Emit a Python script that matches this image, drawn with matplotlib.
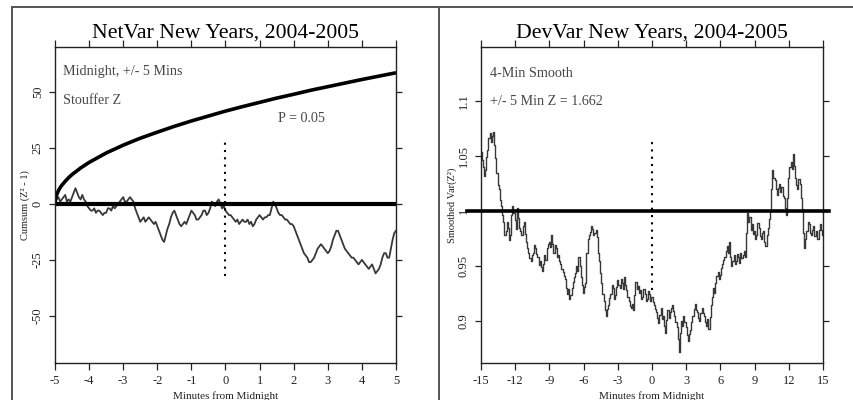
import matplotlib
matplotlib.use("Agg")
import matplotlib.pyplot as plt
import matplotlib.transforms as mtransforms
from matplotlib.lines import Line2D
import numpy as np

# NetVar cumulative deviation, one value every 3 s over midnight +/- 5 min
net_cumsum = [
    0, 2, 3, 1, 2, 3, 4, 1, 2, 1, 3, 5, 7, 5, 3, 2, 4, 2, 1, -1,
    -2, -3, -3, -2, -4, -3, -3, -4, -5, -4, -4, -2, -2, -3, -1, -2, -1, 0, 1, 2,
    3, 1, 1, 2, 3, 2, 1, -2, -4, -6, -8, -7, -6, -8, -7, -6, -7, -8, -9, -8,
    -10, -12, -14, -16, -17, -14, -11, -9, -6, -4, -3, -5, -7, -9, -10, -9, -8, -9, -7, -5,
    -3, -4, -5, -7, -7, -6, -5, -3, -3, -5, -4, -2, 1, 0, -1, 1, 2, 0, -2, -1,
    -3, -4, -5, -5, -6, -7, -8, -7, -9, -8, -7, -8, -8, -7, -9, -8, -10, -9, -7, -6,
    -5, -6, -7, -6, -6, -5, -5, -2, 1, 0, -2, -4, -5, -5, -6, -7, -7, -8, -9, -9,
    -10, -12, -14, -16, -18, -20, -22, -23, -24, -26, -26, -25, -24, -22, -20, -19, -18, -19, -20, -21,
    -22, -21, -19, -16, -14, -12, -12, -14, -16, -18, -20, -21, -22, -23, -24, -24, -25, -26, -27, -26,
    -25, -26, -27, -28, -29, -28, -27, -29, -31, -30, -29, -27, -24, -22, -22, -24, -24, -20, -16, -13,
    -12,
]
net_minutes = np.linspace(-5, 5, len(net_cumsum))

# P = 0.05 envelope
p05_minutes = [-5, -4.99, -4.97, -4.95, -4.9, -4.85, -4.8, -4.7, -4.6, -4.5, -4.25,
               -4, -3.5, -3, -2.5, -2, -1.5, -1, -0.5, 0, 0.5, 1, 1.5, 2, 2.5,
               3, 3.5, 4, 4.5, 5]
p05_values = [0, 1.9, 3.2, 4.1, 5.9, 7.2, 8.3, 10.1, 11.7, 13.1, 16.0,
              18.5, 22.7, 26.2, 29.3, 32.0, 34.6, 37.0, 39.2, 41.4, 43.4, 45.3, 47.2, 48.9, 50.7,
              52.3, 53.9, 55.5, 57.0, 58.5]

# DevVar smoothed variance, one value every 6 s over midnight +/- 15 min
dev_var = [
    1.054, 1.046, 1.040, 1.032, 1.037, 1.049, 1.055, 1.066, 1.071, 1.063,
    1.068, 1.072, 1.060, 1.048, 1.035, 1.024, 1.020, 1.010, 1.005, 0.996,
    0.990, 0.978, 0.982, 0.990, 0.985, 0.974, 0.978, 0.996, 1.005, 0.998,
    0.992, 0.984, 1.003, 0.994, 0.985, 0.982, 0.978, 0.986, 0.990, 0.979,
    0.972, 0.966, 0.962, 0.957, 0.955, 0.960, 0.962, 0.969, 0.966, 0.961,
    0.958, 0.951, 0.955, 0.949, 0.946, 0.952, 0.960, 0.956, 0.966, 0.970,
    0.972, 0.967, 0.978, 0.970, 0.962, 0.969, 0.966, 0.958, 0.960, 0.955,
    0.952, 0.947, 0.945, 0.941, 0.938, 0.930, 0.925, 0.929, 0.920, 0.924,
    0.930, 0.936, 0.940, 0.944, 0.950, 0.946, 0.958, 0.950, 0.940, 0.933,
    0.926, 0.931, 0.935, 0.962, 0.975, 0.978, 0.981, 0.986, 0.984, 0.978,
    0.980, 0.983, 0.976, 0.962, 0.955, 0.944, 0.935, 0.925, 0.918, 0.910,
    0.905, 0.911, 0.915, 0.921, 0.925, 0.933, 0.930, 0.920, 0.924, 0.931,
    0.937, 0.933, 0.930, 0.938, 0.935, 0.929, 0.940, 0.933, 0.928, 0.922,
    0.918, 0.914, 0.912, 0.916, 0.910, 0.924, 0.936, 0.929, 0.932, 0.926,
    0.928, 0.920, 0.922, 0.929, 0.925, 0.918, 0.920, 0.927, 0.925, 0.918,
    0.922, 0.917, 0.915, 0.911, 0.908, 0.903, 0.898, 0.906, 0.912, 0.902,
    0.905, 0.896, 0.889, 0.901, 0.910, 0.903, 0.908, 0.912, 0.915, 0.909,
    0.905, 0.899, 0.895, 0.884, 0.872, 0.889, 0.900, 0.896, 0.905, 0.899,
    0.895, 0.887, 0.882, 0.888, 0.892, 0.899, 0.905, 0.911, 0.916, 0.910,
    0.908, 0.903, 0.900, 0.907, 0.912, 0.907, 0.905, 0.899, 0.896, 0.902,
    0.893, 0.904, 0.915, 0.922, 0.930, 0.926, 0.935, 0.941, 0.945, 0.938,
    0.942, 0.948, 0.952, 0.956, 0.958, 0.964, 0.968, 0.962, 0.972, 0.958,
    0.950, 0.955, 0.960, 0.952, 0.955, 0.961, 0.958, 0.953, 0.962, 0.957,
    0.960, 0.964, 0.958, 0.980, 0.998, 0.990, 0.995, 0.983, 0.988, 0.979,
    0.982, 0.975, 0.978, 0.989, 0.985, 0.977, 0.975, 0.980, 0.982, 0.972,
    0.968, 0.978, 0.985, 0.993, 1.000, 1.020, 1.037, 1.030, 1.028, 1.020,
    1.015, 1.021, 1.025, 1.017, 1.022, 1.014, 1.012, 1.003, 0.996, 1.012,
    1.030, 1.040, 1.045, 1.038, 1.052, 1.041, 1.030, 1.024, 1.020, 1.029,
    1.025, 1.012, 1.002, 0.980, 0.966, 0.975, 0.982, 0.990, 0.988, 0.980,
    0.978, 0.983, 0.986, 0.977, 0.982, 0.975, 0.975, 0.983, 0.988, 0.983,
    0.978,
]
dev_minutes = np.linspace(-15, 15, len(dev_var))

net_xticks = [-5, -4, -3, -2, -1, 0, 1, 2, 3, 4, 5]
net_yticks = [50, 25, 0, -25, -50]
dev_xticks = [-15, -12, -9, -6, -3, 0, 3, 6, 9, 12, 15]
dev_yticks = [1.1, 1.05, 1.0, 0.95, 0.9]
dev_ytick_labels = ["1.1", "1.05", "1", "0.95", "0.9"]

plt.rcParams['font.family'] = ['Liberation Serif', 'DejaVu Serif']
plt.rcParams['axes.unicode_minus'] = False

W, H = 854, 400
fig = plt.figure(figsize=(W / 100, H / 100), dpi=100)
fig.patch.set_facecolor('white')

ink = '#222222'
curve = '#383838'
note = '#484848'
title_size = 15.7
note_size = 10.2

# panel frames
frame = dict(color='#555555', lw=1.4, transform=fig.transFigure)
fig.add_artist(Line2D([12 / W, 1], [1 - 7 / H] * 2, **frame))
fig.add_artist(Line2D([12 / W] * 2, [0, 1 - 7 / H], **frame))
fig.add_artist(Line2D([439 / W] * 2, [0, 1 - 7 / H], **frame))

ax1 = fig.add_axes([55 / W, 37 / H, 341 / W, 316 / H])
ax2 = fig.add_axes([481 / W, 37 / H, 342 / W, 316 / H])


def style(ax, xticks, yticks):
    ax.set_xticks(xticks)
    ax.set_yticks(yticks)
    ax.tick_params(direction='out', length=4, width=0.9, color=ink,
                   top=True, right=True, labelsize=9, labelcolor=ink, pad=4)
    ax.tick_params(axis='x', length=5)
    for lab in ax.get_yticklabels():
        lab.set_rotation(90)
        lab.set_va('center')
    for s in ax.spines.values():
        s.set_color(ink)
        s.set_linewidth(1.0)


# NetVar panel
ax1.set_xlim(-5, 5)
ax1.set_ylim(-71, 70)
ax1.plot(net_minutes, net_cumsum, color=curve, lw=1.3)
ax1.plot(p05_minutes, p05_values, color='black', lw=2.6, solid_capstyle='butt')
ax1.axhline(0, color='black', lw=3)
ax1.plot([0, 0], [-32, 29], color='black', lw=1.5, ls=(0, (1, 2.5)))
style(ax1, net_xticks, net_yticks)
ax1.set_xticklabels([str(t) for t in net_xticks])
ax1.text(0.5, 1 + 9 / 316, 'NetVar New Years, 2004-2005', transform=ax1.transAxes,
         ha='center', va='baseline', fontsize=title_size, color='black')
ax1.text(8 / 341, 1 - 28 / 316, 'Midnight, +/- 5 Mins', transform=ax1.transAxes,
         ha='left', va='baseline', fontsize=note_size, color=note)
ax1.text(8 / 341, 1 - 57 / 316, 'Stouffer Z', transform=ax1.transAxes,
         ha='left', va='baseline', fontsize=note_size, color=note)
ax1.text(223 / 341, 1 - 75 / 316, 'P = 0.05', transform=ax1.transAxes,
         ha='left', va='baseline', fontsize=note_size, color=note)
ax1.text(-30 / 341, 0.5, 'Cumsum (Z² - 1)', transform=ax1.transAxes,
         ha='center', va='center', rotation=90, fontsize=7.5, color=ink)
ax1.text(0.5, -33 / 316, 'Minutes from Midnight', transform=ax1.transAxes,
         ha='center', va='center', fontsize=8, color=ink)

# DevVar panel
ax2.set_xlim(-15, 15)
ax2.set_ylim(0.862, 1.149)
ax2.plot(dev_minutes, dev_var, color=curve, lw=1.0, drawstyle='steps-mid')
# reference line at 1 runs a little past both spines
ref_tr = mtransforms.blended_transform_factory(ax2.transAxes, ax2.transData)
ax2.plot([-0.04, 1.018], [1.0, 1.0], color='black', lw=2.6, clip_on=False,
         transform=ref_tr, zorder=5)
ax2.plot([0, 0], [0.928, 1.065], color='black', lw=1.5, ls=(0, (1, 2.5)))
style(ax2, dev_xticks, dev_yticks)
ax2.set_xticklabels([str(t) for t in dev_xticks])
ax2.set_yticklabels(dev_ytick_labels, rotation=90, va='center')
ax2.text(0.5, 1 + 9 / 316, 'DevVar New Years, 2004-2005', transform=ax2.transAxes,
         ha='center', va='baseline', fontsize=title_size, color='black')
ax2.text(9 / 342, 1 - 30 / 316, '4-Min Smooth', transform=ax2.transAxes,
         ha='left', va='baseline', fontsize=note_size, color=note)
ax2.text(9 / 342, 1 - 58 / 316, '+/- 5 Min Z = 1.662', transform=ax2.transAxes,
         ha='left', va='baseline', fontsize=note_size, color=note)
ax2.text(-29 / 342, 0.5, 'Smoothed Var(Z²)', transform=ax2.transAxes,
         ha='center', va='center', rotation=90, fontsize=7.5, color=ink)
ax2.text(0.5, -33 / 316, 'Minutes from Midnight', transform=ax2.transAxes,
         ha='center', va='center', fontsize=8, color=ink)

fig.savefig('out.png', dpi=100, facecolor='white')
